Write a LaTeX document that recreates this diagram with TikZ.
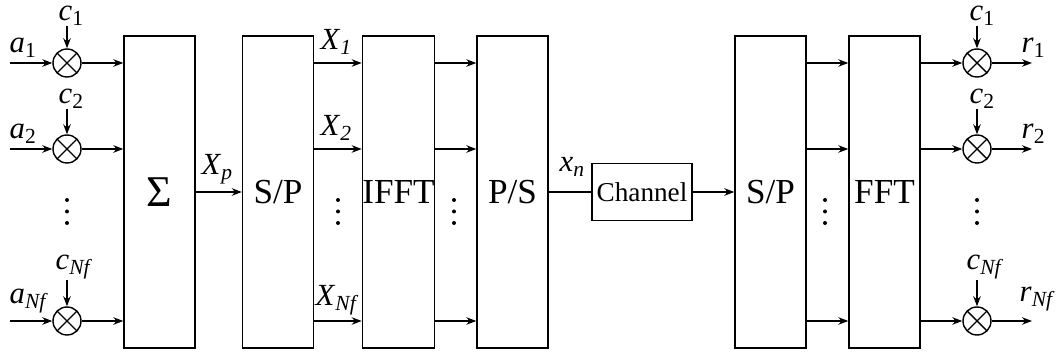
\documentclass[tikz,border=0pt]{standalone}
\usepackage{fontspec}
\setmainfont{Liberation Serif}
\usetikzlibrary{arrows.meta}

\begin{document}
\begin{tikzpicture}[x=0.02cm, y=-0.02cm, line width=0.8pt,
    blk/.style={draw, minimum width=1.42cm, minimum height=6.24cm, inner sep=0pt,
                font=\fontsize{20}{20}\selectfont},
    mult/.style={draw, circle, minimum size=0.56cm, inner sep=0pt,
                 path picture={\draw (path picture bounding box.south west) -- (path picture bounding box.north east)
                                    (path picture bounding box.north west) -- (path picture bounding box.south east);}},
    lbl/.style={inner sep=0pt, anchor=base west, font=\fontsize{17.5}{17.5}\selectfont},
    arr/.style={-{Stealth[length=2mm,width=1.5mm]}}]
    \useasboundingbox (0,0) rectangle (1059,354);

    % transmitter blocks
    \node[blk, font=\fontsize{25}{25}\selectfont] (sum) at (159.5,192) {Σ};
    \node[blk] (sp) at (278,192) {S/P};
    \node[blk] (ifft) at (398.5,192) {IFFT};
    \node[blk] (ps) at (512.5,192) {P/S};
    \node[draw, minimum width=2cm, minimum height=1.14cm, inner sep=0pt,
          font=\fontsize{15.5}{15.5}\selectfont] (ch) at (642,192) {Channel};
    % receiver blocks
    \node[blk] (sp2) at (770.5,192) {S/P};
    \node[blk] (fft) at (884.5,192) {FFT};

    % spreading at the input
    \node[mult] (m1) at (67,63) {};
    \node[mult] (m2) at (67,149) {};
    \node[mult] (m3) at (67,321) {};
    \node[lbl] (a1) at (9,53) {\textit{a}\textsubscript{1}};
    \node[lbl] (a2) at (9,139) {\textit{a}\textsubscript{2}};
    \node[lbl] (a3) at (9,304) {\textit{a}\textsubscript{\textit{Nf}}};
    \node[lbl] (c1) at (58,21) {\textit{c}\textsubscript{1}};
    \node[lbl] (c2) at (58,104) {\textit{c}\textsubscript{2}};
    \node[lbl] (c3) at (55,270) {\textit{c}\textsubscript{\textit{Nf}}};
    \coordinate (in1) at (10,63);
    \coordinate (in2) at (10,149);
    \coordinate (in3) at (10,321);
    \foreach \i in {1,2,3} {
        \draw[arr] (in\i) -- (m\i);
        \draw[arr] (c\i.south -| m\i.north) -- (m\i);
        \draw[arr] (m\i) -- (m\i -| sum.west);
    }

    \draw[arr] (sum) -- (sp);
    \node[lbl] (xp) at (201,175) {\textit{X}\textsubscript{\textit{p}}};

    \node[lbl] (x1) at (320,50) {\textit{X}\textsubscript{\textit{1}}};
    \node[lbl] (x2) at (320,136) {\textit{X}\textsubscript{\textit{2}}};
    \node[lbl] (x3) at (315,306) {\textit{X}\textsubscript{\textit{Nf}}};

    \coordinate (r1) at (0,63);
    \coordinate (r2) at (0,149);
    \coordinate (r3) at (0,321);
    \foreach \i in {1,2,3} {
        \draw[arr] (r\i -| sp.east) -- (r\i -| ifft.west);
        \draw[arr] (r\i -| ifft.east) -- (r\i -| ps.west);
        \draw[arr] (r\i -| sp2.east) -- (r\i -| fft.west);
    }

    \draw (ps) -- (ch);
    \node[lbl] (xn) at (559,172) {\textit{x}\textsubscript{\textit{n}}};
    \draw[arr] (ch) -- (sp2);

    % despreading at the output
    \node[mult] (d1) at (977,63) {};
    \node[mult] (d2) at (977,149) {};
    \node[mult] (d3) at (977,321) {};
    \node[lbl] (e1) at (969,21) {\textit{c}\textsubscript{1}};
    \node[lbl] (e2) at (969,104) {\textit{c}\textsubscript{2}};
    \node[lbl] (e3) at (966,270) {\textit{c}\textsubscript{\textit{Nf}}};
    \node[lbl] (o1) at (1021,53) {\textit{r}\textsubscript{1}};
    \node[lbl] (o2) at (1021,139) {\textit{r}\textsubscript{2}};
    \node[lbl] (o3) at (1019,302) {\textit{r}\textsubscript{\textit{Nf}}};
    \coordinate (out1) at (1032,63);
    \coordinate (out2) at (1032,149);
    \coordinate (out3) at (1032,321);
    \foreach \i in {1,2,3} {
        \draw[arr] (d\i -| fft.east) -- (d\i);
        \draw[arr] (e\i.south -| d\i.north) -- (d\i);
        \draw[arr] (d\i) -- (out\i);
    }

    % vertical dots
    \foreach \x in {67,338,454,825,977}
        \foreach \y in {200,211.5,223}
            \fill (\x,\y) circle (0.04cm);
\end{tikzpicture}
\end{document}
